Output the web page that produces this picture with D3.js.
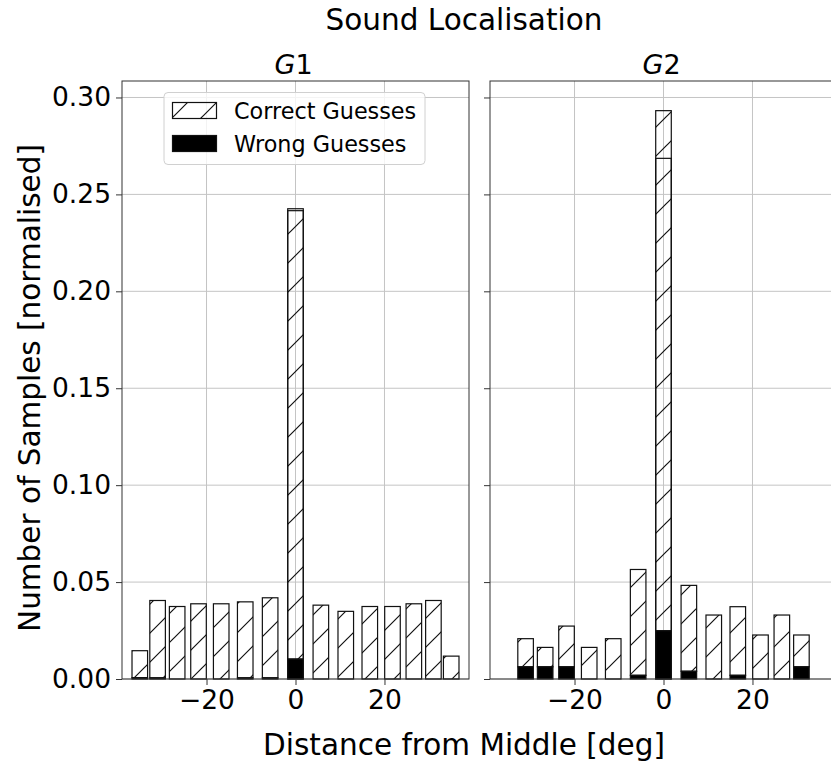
<!DOCTYPE html>
<html>
<head>
<meta charset="utf-8">
<script src="https://cdn.jsdelivr.net/npm/d3@7"></script>
<style>
    body { margin: 0; background: #fff; }
    text { font-family: "DejaVu Sans", sans-serif; fill: #000; }
</style>
</head>
<body>
<div id="chart"></div>
<script>
// speaker angles in degrees (bin centres)
var angles = [-35.0, -31.0, -26.6, -21.8, -16.7, -11.3, -5.7, 0, 5.7, 11.3, 16.7, 21.8, 26.6, 31.0, 35.0];

// G1, normalised sample counts
var g1Correct = [0.0139, 0.0399, 0.0374, 0.0388, 0.0388, 0.0392, 0.0413, 0.2323, 0.0381, 0.0349, 0.0374, 0.0374, 0.0388, 0.0405, 0.0118];
var g1Wrong   = [0.0007, 0.0006, 0, 0, 0, 0.0006, 0.0006, 0.0103, 0, 0, 0, 0, 0, 0, 0];

// G2 (no samples at +-35)
var g2Correct = [null, 0.0145, 0.0100, 0.0210, 0.0163, 0.0208, 0.0546, 0.2683, 0.0443, 0.0330, 0.0354, 0.0227, 0.0330, 0.0164, null];
var g2Wrong   = [null, 0.0063, 0.0063, 0.0063, 0, 0, 0.0019, 0.0249, 0.0040, 0, 0.0019, 0, 0, 0.0063, null];

// second zero bin drawn over the centre bar
var centreInner = [0.2416, 0.2686];

var groupNames = ["G", "G"];
var groupNums = ["1", "2"];
var yTicks = [0, 0.05, 0.10, 0.15, 0.20, 0.25, 0.30];
var xTicks = [-20, 0, 20];
var legendLabels = ["Correct Guesses", "Wrong Guesses"];

var W = 831, H = 763;
var barWidth = 3.5;

var svg = d3.select("#chart").append("svg")
    .attr("width", W)
    .attr("height", H);

svg.append("defs")
    .append("pattern")
    .attr("id", "hatch")
    .attr("patternUnits", "userSpaceOnUse")
    .attr("width", 29)
    .attr("height", 29)
    .append("path")
    .attr("d", "M0,29 L29,0 M-2,2 L2,-2 M27,31 L31,27")
    .attr("stroke", "#111")
    .attr("stroke-width", 1.2);

var y = d3.scaleLinear().domain([0, 0.3085]).range([679, 81]);

var panels = [
    {left: 122, correct: g1Correct, wrong: g1Wrong, inner: centreInner[0]},
    {left: 490, correct: g2Correct, wrong: g2Wrong, inner: centreInner[1]}
];
var panelWidth = 347;

panels.forEach(function(p, pi) {
    var x = d3.scaleLinear().domain([-39, 39]).range([p.left, p.left + panelWidth]);
    var g = svg.append("g");

    // grid
    g.selectAll(".vgrid").data(xTicks).enter().append("line")
        .attr("x1", function(d) { return x(d); })
        .attr("x2", function(d) { return x(d); })
        .attr("y1", y.range()[0]).attr("y2", y.range()[1])
        .attr("stroke", "#c4c4c4").attr("stroke-width", 1);
    g.selectAll(".hgrid").data(yTicks).enter().append("line")
        .attr("x1", p.left).attr("x2", p.left + panelWidth)
        .attr("y1", function(d) { return y(d); })
        .attr("y2", function(d) { return y(d); })
        .attr("stroke", "#c4c4c4").attr("stroke-width", 1);

    var bars = angles.map(function(a, i) {
        return {a: a, c: p.correct[i], w: p.wrong[i]};
    }).filter(function(d) { return d.c !== null; });

    var bw = x(barWidth) - x(0);

    // hatched correct guesses, stacked on the wrong ones
    g.selectAll(".correct").data(bars).enter().append("rect")
        .attr("x", function(d) { return x(d.a) - bw / 2; })
        .attr("y", function(d) { return y(d.w + d.c); })
        .attr("width", bw)
        .attr("height", function(d) { return y(d.w) - y(d.w + d.c); })
        .attr("fill", "url(#hatch)")
        .attr("stroke", "#111").attr("stroke-width", 1.2);

    // centre overlap
    g.append("rect")
        .attr("x", x(0) - bw / 2)
        .attr("y", y(p.inner))
        .attr("width", bw)
        .attr("height", y(0) - y(p.inner))
        .attr("fill", "none")
        .attr("stroke", "#111").attr("stroke-width", 1.2);

    g.selectAll(".wrong").data(bars.filter(function(d) { return d.w > 0; })).enter().append("rect")
        .attr("x", function(d) { return x(d.a) - bw / 2; })
        .attr("y", function(d) { return y(d.w); })
        .attr("width", bw)
        .attr("height", function(d) { return y(0) - y(d.w); })
        .attr("fill", "#000")
        .attr("stroke", "#111").attr("stroke-width", 1.2);

    // axes
    var yAxis = d3.axisLeft(y).tickValues(yTicks).tickSize(6).tickPadding(5)
        .tickFormat(pi === 0 ? d3.format(".2f") : "");
    var ya = g.append("g").attr("transform", "translate(" + p.left + ",0)").call(yAxis);
    var xAxis = d3.axisBottom(x).tickValues(xTicks).tickSize(6).tickPadding(5);
    var xa = g.append("g").attr("transform", "translate(0," + y(0) + ")").call(xAxis);
    [ya, xa].forEach(function(a) {
        a.select(".domain").remove();
        a.selectAll("line").attr("stroke", "#333");
        a.selectAll("text").style("font-size", "26.5px").attr("fill", "#000")
            .style("font-family", "DejaVu Sans");
    });

    // spines
    g.append("rect")
        .attr("x", p.left).attr("y", y.range()[1])
        .attr("width", panelWidth).attr("height", y.range()[0] - y.range()[1])
        .attr("fill", "none").attr("stroke", "#333").attr("stroke-width", 1);

    var t = g.append("text")
        .attr("x", p.left + panelWidth / 2 - 2)
        .attr("y", 74)
        .attr("text-anchor", "middle")
        .style("font-size", "27px");
    t.append("tspan").style("font-style", "italic").text(groupNames[pi]);
    t.append("tspan").text(groupNums[pi]);
});

// legend
var legend = svg.append("g").attr("id", "legend");
legend.append("rect")
    .attr("x", 164).attr("y", 92.5)
    .attr("width", 261).attr("height", 72)
    .attr("rx", 4)
    .attr("fill", "#fff").attr("fill-opacity", 0.8)
    .attr("stroke", "#d0d0d0");
legendLabels.forEach(function(lab, i) {
    legend.append("rect")
        .attr("x", 172.5).attr("y", 102.5 + i * 33)
        .attr("width", 44).attr("height", 16)
        .attr("fill", i === 0 ? "url(#hatch)" : "#000")
        .attr("stroke", "#111").attr("stroke-width", 1.2);
    legend.append("text")
        .attr("x", 234).attr("y", 110.5 + i * 33)
        .attr("dominant-baseline", "central")
        .style("font-size", "22.3px")
        .text(lab);
});

// titles
svg.append("text")
    .attr("x", 464).attr("y", 30)
    .attr("text-anchor", "middle")
    .style("font-size", "29.5px")
    .text("Sound Localisation");

svg.append("text")
    .attr("x", 464).attr("y", 755)
    .attr("text-anchor", "middle")
    .style("font-size", "29.5px")
    .text("Distance from Middle [deg]");

svg.append("text")
    .attr("transform", "translate(30,388) rotate(-90)")
    .attr("text-anchor", "middle")
    .attr("dominant-baseline", "central")
    .style("font-size", "29.5px")
    .text("Number of Samples [normalised]");
</script>
</body>
</html>
